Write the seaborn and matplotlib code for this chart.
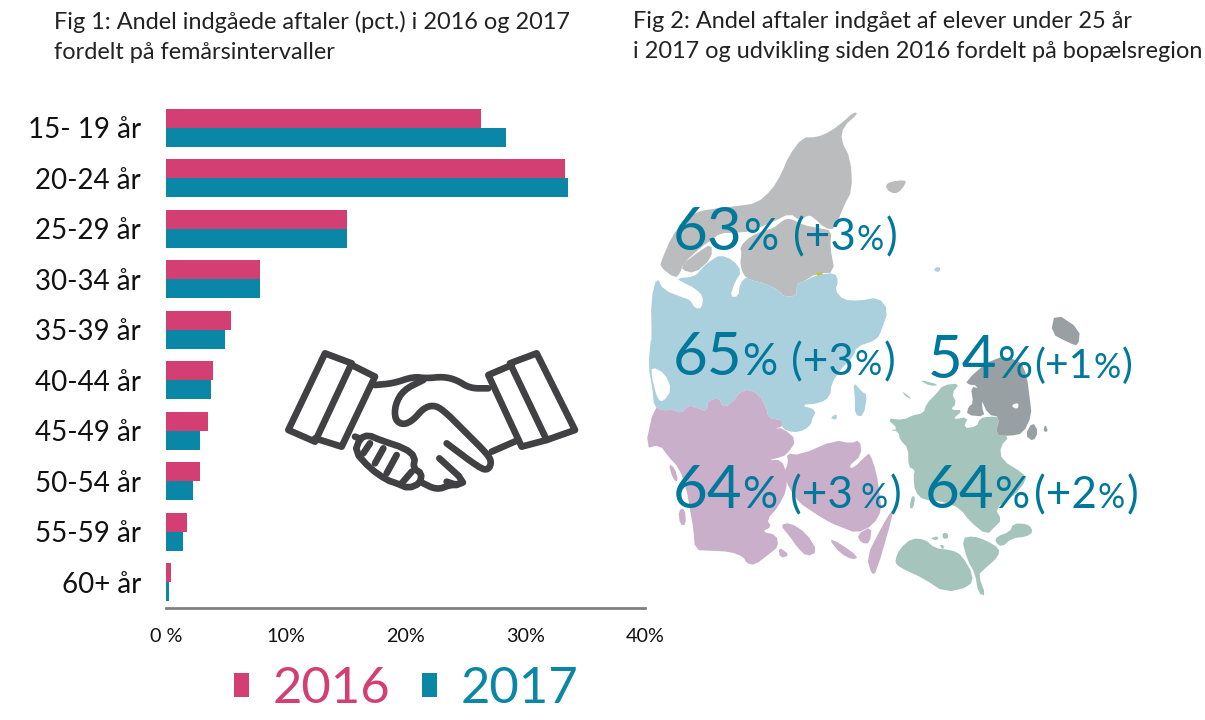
import matplotlib
matplotlib.use("Agg")
import matplotlib.pyplot as plt
import seaborn as sns
import pandas as pd
from matplotlib.patches import Polygon, PathPatch
from matplotlib.path import Path

age_groups = ["15- 19 år","20-24 år","25-29 år","30-34 år","35-39 år","40-44 år","45-49 år","50-54 år","55-59 år","60+ år"]
share_2016 = [26.3,33.3,15.15,7.85,5.45,3.95,3.5,2.85,1.75,0.4]
share_2017 = [28.4,33.55,15.15,7.85,4.95,3.75,2.85,2.25,1.4,0.25]
x_ticks = [0,10,20,30,40]
x_tick_labels = ["0 %","10%","20%","30%","40%"]
region_big = ["63","65","54","64","64"]
region_change = ["(+3","(+3","(+1","(+3","(+2"]
title1 = "Fig 1: Andel indgåede aftaler (pct.) i 2016 og 2017\nfordelt på femårsintervaller"
title2 = "Fig 2: Andel aftaler indgået af elever under 25 år\ni 2017 og udvikling siden 2016 fordelt på bopælsregion"

C16, C17 = "#D33F72", "#0A86A6"
TXT = "#00789C"
sns.set_theme(style="white")
plt.rcParams["font.family"] = ["Lato", "DejaVu Sans"]
W, H = 1205, 720
fig = plt.figure(figsize=(W/100, H/100), dpi=100, facecolor="white")
ax = fig.add_axes([166/W, (H-607.5)/H, 479/W, 505/H])
df = pd.DataFrame({"age": age_groups*2, "share": share_2016+share_2017,
                   "year": ["2016"]*len(age_groups)+["2017"]*len(age_groups)})
sns.barplot(data=df, y="age", x="share", hue="year", palette=[C16, C17], ax=ax,
            width=0.76, gap=0, saturation=1, orient="y", linewidth=0)
ax.set_xlim(0, 40); ax.set_ylim(9.5, -0.5)
ax.set_xlabel(""); ax.set_ylabel("")
ax.set_xticks(x_ticks, x_tick_labels)
ax.tick_params(axis="x", length=0, pad=15, labelsize=14.2, labelcolor="#111111")
ax.tick_params(axis="y", length=0, pad=18, labelsize=20, labelcolor="#111111")
for s in ["top","right","left"]:
    ax.spines[s].set_visible(False)
ax.spines["bottom"].set_color("#808080"); ax.spines["bottom"].set_linewidth(2)
h, l = ax.get_legend_handles_labels()
leg = ax.legend(h, l, ncols=2, frameon=False, fontsize=36.5, loc="center left",
                bbox_to_anchor=(234/W, (H-689)/H), bbox_transform=fig.transFigure,
                handlelength=0.3, handleheight=0.34, handletextpad=0.46, columnspacing=0.63,
                borderpad=0, borderaxespad=0)
for t, c in zip(leg.get_texts(), [C16, C17]):
    t.set_color(c)

ov = fig.add_axes([0, 0, 1, 1], facecolor="none")
ov.set_xlim(0, W); ov.set_ylim(H, 0); ov.axis("off")
ov.text(54, 11, title1, fontsize=16.9, color="#222222", va="top", linespacing=1.5)
ov.text(633, 11, title2, fontsize=16.95, color="#222222", va="top", linespacing=1.5)

def chaikin(pts, closed=True, n=2):
    for _ in range(n):
        out = []
        m = len(pts)
        rng = range(m) if closed else range(m-1)
        if not closed:
            out.append(pts[0])
        for i in rng:
            a, b = pts[i], pts[(i+1) % m]
            out.append((0.75*a[0]+0.25*b[0], 0.75*a[1]+0.25*b[1]))
            out.append((0.25*a[0]+0.75*b[0], 0.25*a[1]+0.75*b[1]))
        if not closed:
            out.append(pts[-1])
        pts = out
    return pts
def Z(pts, ox, oy):
    return [(ox+x/3, oy+y/3) for x, y in pts]
def poly(pts, ox, oy, color, z=1):
    ov.add_patch(Polygon(chaikin(Z(pts, ox, oy), n=1), closed=True, fc=color, ec="none", zorder=z))

GREY, BLUE, PURP, GREEN, DGREY = "#BBBCBE", "#AACFDD", "#C9AFCA", "#A5C4BB", "#98A0A3"
# Nordjylland
poly([(655,40),(610,80),(603,120),(632,178),(637,270),(610,320),(585,388),(555,385),(520,352),(505,345),(480,362),(450,340),(400,365),(330,395),(285,398),(240,400),(215,420),(185,440),(130,490),(120,520),(105,535),(60,500),(65,480),(95,410),(130,365),(170,335),(230,325),(290,318),(350,310),(395,270),(425,220),(445,170),(487,112),(530,112),(570,95),(610,65),(640,37)],640,100,GREY)
poly([(400,385),(430,360),(450,355),(490,375),(540,385),(575,392),(570,440),(585,518),(530,520),(490,545),(470,552),(470,588),(430,590),(418,572),(375,550),(330,540),(310,525),(300,490),(305,460),(300,440),(330,410),(370,392)],640,100,GREY)
poly([(215,430),(215,475),(165,520),(125,510),(130,490),(170,460)],640,100,GREY)
poly([(735,258),(750,245),(795,240),(798,250),(775,280),(750,278)],640,100,GREY)
poly([(530,518),(548,518),(548,528),(530,528)],640,100,"#C8C800")
# Midtjylland
poly([(35,720),(33,600),(50,530),(70,570),(135,595),(150,600),(165,625),(185,625),(190,590),(165,565),(125,545),(110,535),(165,530),(190,500),(215,480),(240,465),(280,480),(305,515),(285,545),(270,590),(295,590),(300,550),(320,530),(330,540),(375,550),(418,572),(430,590),(470,588),(470,552),(490,545),(530,525),(585,518),(595,545),(585,570),(610,600),(660,602),(715,592),(745,630),(725,690),(710,720),(650,740),(640,770),(600,810),(575,850),(570,890),(540,910),(480,915),(530,930),(515,960),(515,970),(495,990),(460,998),(425,985),(428,960),(385,955),(380,925),(355,880),(310,865),(270,915),(245,920),(240,895),(205,900),(200,935),(175,925),(145,915),(125,940),(95,928),(70,932),(42,920),(38,870),(25,800),(32,720)],640,100,BLUE)
poly([(35,800),(75,820),(95,870),(70,905),(55,900),(45,870),(35,830)],640,100,"white",2)
poly([(640,845),(665,875),(682,885),(670,950),(645,945),(645,900)],640,100,BLUE)
poly([(570,955),(590,940),(590,960)],640,100,BLUE)
poly([(882,505),(900,500),(900,515),(885,515)],640,100,BLUE)
# Syddanmark
poly([(42,200),(70,212),(95,208),(125,220),(145,195),(175,205),(200,215),(205,180),(240,175),(245,200),(270,195),(310,145),(355,160),(380,205),(385,235),(428,240),(425,262),(400,265),(430,265),(470,300),(440,345),(410,355),(385,360),(425,360),(440,400),(440,450),(415,500),(380,540),(395,560),(365,575),(410,585),(415,620),(390,640),(345,675),(320,670),(310,650),(270,635),(210,632),(165,630),(160,565),(150,510),(140,450),(118,385),(85,350),(60,315),(15,325)],640,340,PURP)
for p in [[(115,510),(135,505),(138,555),(120,555)],
          [(85,370),(105,385),(115,425),(100,420)],
          [(420,555),(450,548),(500,580),(533,635),(500,650),(470,620),(450,590)],
          [(415,620),(450,645),(420,655)],
          [(440,340),(480,345),(585,300),(630,310),(660,300),(665,345),(625,380),(640,385),(680,345),(690,340),(710,400),(720,470),(725,510),(700,555),(650,580),(600,560),(575,550),(540,530),(510,510),(480,490),(450,450),(430,400),(445,370)],
          [(755,510),(760,520),(710,695),(695,705),(680,650),(720,570)],
          [(565,595),(600,610),(655,650),(640,660),(600,640)],
          [(650,585),(695,558),(690,610),(665,610)]]:
    poly(p,640,340,PURP)
# Sjaelland
for p in [[(20,355),(70,360),(100,345),(130,340),(140,310),(170,280),(190,255),(240,250),(215,280),(230,310),(210,330),(250,330),(215,360),(265,350),(250,385),(290,380),(300,355),(325,350),(360,350),(345,405),(390,408),(360,440),(365,480),(430,520),(440,540),(400,590),(345,625),(365,660),(345,680),(320,705),(270,665),(240,625),(190,605),(130,600),(105,575),(100,530),(105,510),(85,500),(85,445),(60,420),(55,395),(30,390),(55,388)],
          [(115,238),(180,255),(150,258)],[(65,272),(100,300),(75,288)],
          [(45,780),(60,745),(95,715),(135,718),(165,745),(215,750),(245,765),(280,825),(270,860),(195,878),(130,835),(75,810),(50,795)],
          [(245,715),(280,708),(320,722),(358,745),(355,770),(310,810),(295,825),(318,888),(295,880),(285,820),(262,780)],
          [(350,710),(390,695),(400,670),(445,672),(460,695),(440,710),(395,715),(365,742),(345,725)],
          [(188,698),(204,700),(204,716),(188,716)],[(150,715),(175,708),(172,722)],[(178,735),(192,735),(190,750)],
          [(95,588),(106,590),(100,625),(88,625)]]:
    poly(p,880,300,GREEN)
# Hovedstaden
for p in [[(255,245),(340,170),(420,180),(440,225),(450,300),(455,345),(430,400),(390,408),(345,405),(360,350),(325,345),(300,290),(290,255),(270,255)],
          [(272,260),(300,265),(310,290),(305,320),(315,350),(260,345),(265,320),(280,310)],
          [(458,365),(475,395),(460,425),(435,405)],
          [(525,38),(600,88),(595,138),(570,130),(512,100)],
          [(495,372),(505,395),(490,395)]]:
    poly(p,880,300,DGREY)
poly([(395,315),(415,308),(415,325),(402,325)],880,300,"white",2)

# Handshake icon
def line(pts, closed=False, smooth=0):
    v = Z(pts, 280, 340)
    if smooth:
        v = chaikin(v, closed=closed, n=smooth)
    codes = [Path.MOVETO]+[Path.LINETO]*(len(v)-1)
    if closed:
        v.append(v[0]); codes.append(Path.CLOSEPOLY)
    ov.add_patch(PathPatch(Path(v, codes), fc="none", ec="#414042", lw=4.8, joinstyle="round", capstyle="round", zorder=3))
line([(135,40),(215,70),(105,305),(25,270)], True)
line([(215,75),(285,110),(185,320),(105,295)])
line([(770,40),(690,70),(800,300),(885,270)], True)
line([(695,75),(625,105),(725,320),(800,300)])
line([(285,135),(340,130),(400,110),(440,115),(490,110),(530,120),(570,145),(625,145)], smooth=2)
line([(430,120),(370,150),(345,195),(345,240),(370,255),(400,240),(430,205),(460,195),(490,210),(560,280),(620,340),(635,365),(625,390),(600,385),(500,310)], smooth=2)
line([(478,355),(555,425),(530,435),(500,425)], smooth=1)
line([(420,425),(470,450),(510,435),(530,435)], smooth=2)
line([(240,295),(265,285),(300,300),(375,325),(405,350),(400,385),(425,400),(420,430),(385,445),(350,430),(320,420),(270,385),(225,335)], True, smooth=1)
for seg in [[(270,310),(250,340)],[(310,325),(285,370)],[(350,345),(320,400)],[(395,395),(365,430)],[(635,335),(715,300)],[(225,290),(240,296)]]:
    line(seg)

# Map labels
xs_big = [673,673,928,673,925]
xs_small = [793,791,1034,790,1034]
small_px = [44,44,41,44,44]
ys = [250,375,378,508,508]
gaps = [0,0,0,7,0]
r = fig.canvas.get_renderer()
def piece(x, y, s, px):
    t = ov.text(x, y, s, fontsize=px*0.72, color=TXT, va="baseline", ha="left", zorder=5)
    return t.get_window_extent(r).x1
for b, ch, xb, xs, y, g, sp in zip(region_big, region_change, xs_big, xs_small, ys, gaps, small_px):
    e = piece(xb, y, b, 60)
    piece(e, y, "%", 44)
    e = piece(xs, y, ch, sp)
    e = piece(e+1+g, y, "%", 34)
    piece(e+1, y, ")", sp)

fig.savefig("out.png", dpi=100)
